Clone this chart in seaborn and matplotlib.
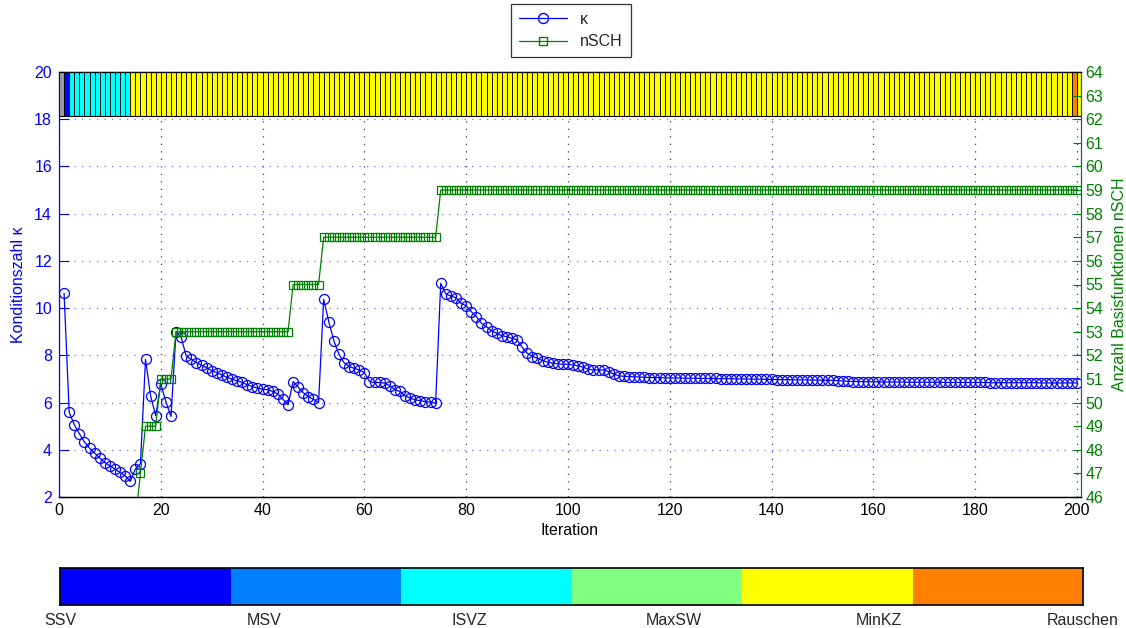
import numpy as np
import pandas as pd
import matplotlib
matplotlib.use("Agg")
import matplotlib.pyplot as plt
import seaborn as sns
from matplotlib.lines import Line2D

# ---------------- data ----------------
iterations = list(range(1, 201))

kappa = [
    10.63, 5.59, 5.06, 4.68, 4.33, 4.07, 3.86, 3.65, 3.46, 3.32,      # 1-10
    3.18, 3.04, 2.90, 2.66, 3.18, 3.41, 7.83, 6.28, 5.44, 6.79,       # 11-20
    6.04, 5.41, 9.00, 8.76, 7.97, 7.83, 7.69, 7.58, 7.48, 7.35,       # 21-30
    7.27, 7.17, 7.07, 6.99, 6.92, 6.85, 6.75, 6.68, 6.61, 6.57,       # 31-40
    6.54, 6.47, 6.36, 6.14, 5.90, 6.89, 6.65, 6.42, 6.25, 6.14,       # 41-50
    6.00, 10.37, 9.43, 8.62, 8.05, 7.69, 7.52, 7.45, 7.38, 7.27,      # 51-60
    6.89, 6.85, 6.85, 6.82, 6.71, 6.54, 6.47, 6.28, 6.19, 6.11,       # 61-70
    6.08, 6.04, 6.02, 5.97, 11.05, 10.60, 10.51, 10.44, 10.20, 10.10, # 71-80
    9.85, 9.64, 9.36, 9.21, 9.04, 8.93, 8.83, 8.79, 8.72, 8.65,       # 81-90
    8.34, 8.09, 7.95, 7.88, 7.78, 7.71, 7.67, 7.64, 7.62, 7.62,       # 91-100
    7.59, 7.55, 7.50, 7.41, 7.38, 7.38, 7.38, 7.31, 7.21, 7.13,       # 101-110
    7.11, 7.10, 7.09, 7.08, 7.07, 7.06, 7.06, 7.05, 7.05, 7.04,       # 111-120
    7.04, 7.04, 7.03, 7.03, 7.03, 7.02, 7.02, 7.02, 7.02, 7.01,       # 121-130
    7.01, 7.01, 7.00, 7.00, 7.00, 6.99, 6.99, 6.99, 6.98, 6.98,       # 131-140
    6.97, 6.97, 6.97, 6.96, 6.96, 6.96, 6.96, 6.95, 6.95, 6.95,       # 141-150
    6.94, 6.94, 6.93, 6.91, 6.90, 6.89, 6.89, 6.88, 6.88, 6.88,       # 151-160
    6.88, 6.87, 6.87, 6.87, 6.87, 6.87, 6.86, 6.86, 6.86, 6.86,       # 161-170
    6.86, 6.86, 6.86, 6.85, 6.85, 6.85, 6.85, 6.85, 6.85, 6.85,       # 171-180
    6.85, 6.85, 6.84, 6.84, 6.84, 6.84, 6.84, 6.84, 6.84, 6.84,       # 181-190
    6.84, 6.84, 6.83, 6.83, 6.83, 6.83, 6.83, 6.83, 6.83, 6.83,       # 191-200
]

# number of basis functions, as (value, number of iterations) runs for iterations 1..200
nsch_runs = [(43, 14), (45, 1), (47, 1), (49, 3), (51, 3), (53, 23),
             (55, 6), (57, 23), (59, 126)]

# method used per iteration 0..200, as (category, count) runs
strip_runs = [("none", 1), ("SSV", 1), ("ISVZ", 12), ("MinKZ", 185),
              ("Rauschen", 1), ("MinKZ", 1)]

category_names = ["SSV", "MSV", "ISVZ", "MaxSW", "MinKZ", "Rauschen"]
category_colors = ["#0000ff", "#0080ff", "#00ffff", "#80ff80", "#ffff00", "#ff8000"]

nsch = [v for v, n in nsch_runs for _ in range(n)]
strip_cats = [c for c, n in strip_runs for _ in range(n)]
color_map = dict(zip(category_names, category_colors))
color_map["none"] = "#9a9a9a"

df = pd.DataFrame({"Iteration": iterations, "kappa": kappa, "nSCH": nsch})

# ---------------- style ----------------
sns.set_theme(style="white")
plt.rcParams['font.family'] = ['Liberation Sans', 'DejaVu Sans']

BLUE = "#0000ff"
GREEN = "#008000"

fig = plt.figure(figsize=(11.26, 6.28), dpi=100)
ax = fig.add_axes([59 / 1126, 1 - 497 / 628, (1081 - 59) / 1126, (497 - 72) / 628])
ax2 = ax.twinx()

# kappa
sns.lineplot(data=df, x="Iteration", y="kappa", ax=ax, color=BLUE, lw=0.9,
             marker="o", markersize=7.2, markerfacecolor="none",
             markeredgecolor=BLUE, markeredgewidth=0.9, legend=False, zorder=4)
# nSCH
sns.lineplot(data=df, x="Iteration", y="nSCH", ax=ax2, color=GREEN, lw=0.9,
             marker="s", markersize=5.2, markerfacecolor="none",
             markeredgecolor=GREEN, markeredgewidth=0.9, legend=False, zorder=4)

# method strip at the top
strip_x = list(range(0, len(strip_cats)))
strip_bottom = 18.14
ax.bar(strip_x, 20 - strip_bottom, bottom=strip_bottom, width=1, align="edge",
       color=[color_map[c] for c in strip_cats], edgecolor="black",
       linewidth=0.6, zorder=5)
ax.axhline(strip_bottom, color="black", lw=0.8, zorder=6)

ax.set_xlim(0, 200.8)
ax.set_ylim(2, 20)
ax2.set_ylim(46, 64)
ax.set_xticks(range(0, 201, 20))
ax.set_yticks(range(2, 21, 2))
ax2.set_yticks(range(46, 65))

ax.grid(True, axis="y", linestyle=(0, (1, 5)), color="#7070ff", lw=0.9)
ax.grid(True, axis="x", linestyle=(0, (1, 5)), color="#404040", lw=0.9)
ax.set_axisbelow(True)

for a in (ax, ax2):
    for s in a.spines.values():
        s.set_linewidth(0.9)
        s.set_color("black")
ax.spines["left"].set_color(BLUE)
ax2.spines["left"].set_visible(False)
ax2.spines["right"].set_color("#1d5a8c")
ax.spines["right"].set_visible(False)

ax.tick_params(axis="x", direction="in", top=True, length=7, width=0.8,
               labelsize=11.5, colors="black", pad=4)
ax.tick_params(axis="y", direction="in", length=7, width=0.8, labelsize=11.5,
               colors=BLUE, pad=5)
ax2.tick_params(axis="y", direction="in", length=6, width=0.8, labelsize=11.5,
                colors=GREEN, pad=3)

ax.set_xlabel("Iteration", fontsize=11.5, color="black", labelpad=4)
ax.set_ylabel("Konditionszahl κ", fontsize=11.5, color=BLUE, labelpad=6)
ax2.set_ylabel("Anzahl Basisfunktionen nSCH", fontsize=11.5, color=GREEN, labelpad=6)

# legend
handles = [
    Line2D([], [], color=BLUE, lw=0.9, marker="o", markersize=7.2,
           markerfacecolor="none", markeredgecolor=BLUE),
    Line2D([], [], color=GREEN, lw=0.9, marker="s", markersize=5.2,
           markerfacecolor="none", markeredgecolor=GREEN),
]
leg = fig.legend(handles, ["κ", "nSCH"], loc="upper center",
                 bbox_to_anchor=(571 / 1126, 1 - 4 / 628), frameon=True,
                 fancybox=False, edgecolor="black", fontsize=11.5,
                 handlelength=3.0, borderpad=0.5, labelspacing=0.45,
                 handletextpad=0.8, borderaxespad=0)
leg.get_frame().set_linewidth(0.9)

# colour legend bar at the bottom
cax = fig.add_axes([60 / 1126, 1 - 605 / 628, (1083 - 60) / 1126, 37 / 628])
cax.bar(range(len(category_names)), 1, width=1, align="edge",
        color=category_colors, edgecolor="none")
cax.set_xlim(0, len(category_names))
cax.set_ylim(0, 1)
cax.set_yticks([])
cax.set_xticks(np.linspace(0, len(category_names), len(category_names)))
cax.set_xticklabels(category_names, fontsize=11.5)
cax.tick_params(axis="x", length=0, pad=6)
for s in cax.spines.values():
    s.set_linewidth(1.2)
    s.set_color("black")

fig.savefig("out.png", dpi=100)
